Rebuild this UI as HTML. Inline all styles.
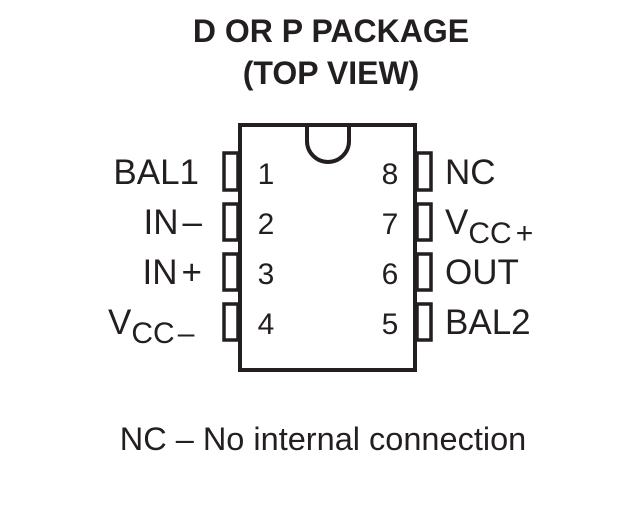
<!DOCTYPE html>
<html><head><style>
body{margin:0;width:620px;height:525px;background:#fff;overflow:hidden}
</style></head><body>
<svg width="620" height="525" xmlns="http://www.w3.org/2000/svg" font-family="Liberation Sans, Arial, sans-serif" fill="#231f20">
<text x="331" y="42" font-size="32" font-weight="bold" text-anchor="middle">D OR P PACKAGE</text>
<text x="331" y="84" font-size="32" font-weight="bold" text-anchor="middle">(TOP VIEW)</text>
<g fill="none" stroke="#231f20" stroke-width="4">
<rect x="240" y="125" width="175" height="245"/>
<path d="M307 125 L307 141 A21 21 0 0 0 349 141 L349 125"/>
</g>
<g fill="#fff" stroke="#231f20" stroke-width="3.5">
<rect x="224" y="153" width="14" height="37"/>
<rect x="224" y="204" width="14" height="36"/>
<rect x="224" y="254" width="14" height="36"/>
<rect x="224" y="304" width="14" height="36"/>
<rect x="417" y="153" width="14" height="37"/>
<rect x="417" y="204" width="14" height="36"/>
<rect x="417" y="254" width="14" height="36"/>
<rect x="417" y="304" width="14" height="36"/>
</g>
<g font-size="30" text-anchor="middle">
<text x="266" y="184">1</text><text x="266" y="234">2</text><text x="266" y="284">3</text><text x="266" y="334">4</text>
<text x="390" y="184">8</text><text x="390" y="234">7</text><text x="390" y="284">6</text><text x="390" y="334">5</text>
</g>
<g font-size="35">
<text x="199" y="184" text-anchor="end">BAL1</text>
<text x="202" y="234" text-anchor="end">IN<tspan dx="4">–</tspan></text>
<text x="202" y="284" text-anchor="end">IN<tspan dx="4">+</tspan></text>
<text x="108" y="334">V<tspan font-size="30" dy="9">CC</tspan><tspan font-size="30" dx="3">–</tspan></text>
<text x="445" y="184">NC</text>
<text x="445" y="234">V<tspan font-size="30" dy="9">CC</tspan><tspan font-size="30" dx="4">+</tspan></text>
<text x="445" y="284">OUT</text>
<text x="445" y="334">BAL2</text>
</g>
<text x="323" y="450" font-size="32.5" text-anchor="middle">NC – No internal connection</text>
</svg>
</body></html>
